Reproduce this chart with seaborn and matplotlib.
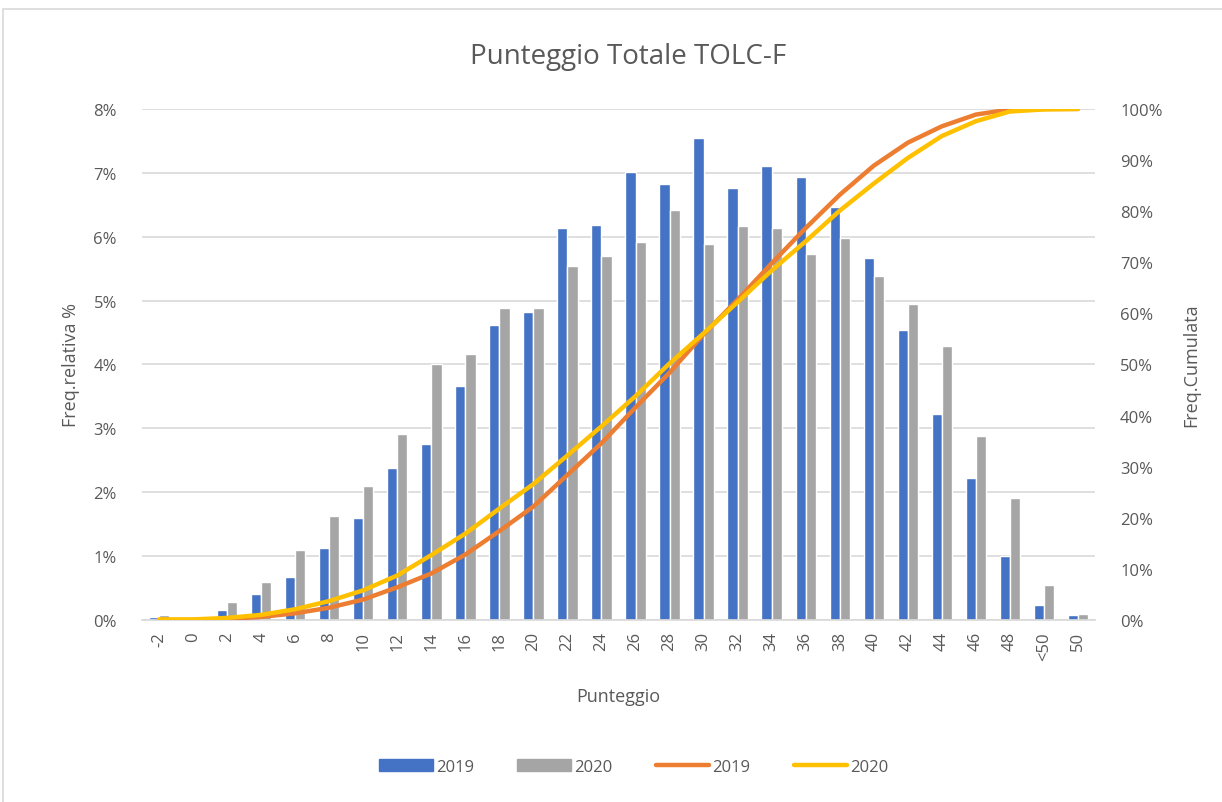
# Punteggio Totale TOLC-F - riproduzione grafico Excel
import numpy as np
import pandas as pd
import matplotlib.pyplot as plt
import seaborn as sns
from matplotlib.patches import Patch, Rectangle
from matplotlib.lines import Line2D
from matplotlib.ticker import PercentFormatter

# -----------------------------
# Dati
# -----------------------------
punteggi = ['-2', '0', '2', '4', '6', '8', '10', '12', '14', '16', '18', '20',
            '22', '24', '26', '28', '30', '32', '34', '36', '38', '40', '42',
            '44', '46', '48', '<50', '50']

# frequenza relativa %
freq_2019 = [0.04, 0.0, 0.16, 0.41, 0.67, 1.13, 1.60, 2.38, 2.75, 3.67, 4.61, 4.82,
             6.13, 6.19, 7.01, 6.82, 7.54, 6.76, 7.10, 6.94, 6.47, 5.66, 4.54,
             3.23, 2.23, 1.00, 0.23, 0.07]
freq_2020 = [0.07, 0.01, 0.28, 0.60, 1.10, 1.63, 2.10, 2.91, 4.00, 4.17, 4.88, 4.88,
             5.54, 5.69, 5.91, 6.41, 5.88, 6.16, 6.13, 5.73, 5.98, 5.38, 4.95,
             4.29, 2.88, 1.91, 0.54, 0.10]

# frequenza cumulata %
cum_2019 = [0.0, 0.0, 0.2, 0.6, 1.3, 2.4, 4.0, 6.4, 9.1, 12.8, 17.4, 22.2,
            28.4, 34.6, 41.6, 48.4, 55.9, 62.7, 69.8, 76.7, 83.2, 88.9, 93.4,
            96.6, 98.9, 99.9, 100.0, 100.0]
cum_2020 = [0.1, 0.1, 0.4, 1.0, 2.1, 3.7, 5.8, 8.7, 12.7, 16.9, 21.8, 26.6,
            32.2, 37.9, 43.8, 50.2, 56.1, 62.2, 68.4, 74.1, 80.1, 85.4, 90.4,
            94.7, 97.6, 99.5, 99.9, 100.0]

BLU = '#4472C4'
GRIGIO = '#A5A5A5'
ARANCIO = '#ED7D31'
GIALLO = '#FFC000'
TESTO = '#595959'
GRIGLIA = '#D9D9D9'

sns.set_theme(style='white')
plt.rcParams['font.family'] = ['Open Sans', 'DejaVu Sans']

n = len(punteggi)
df = pd.DataFrame({
    'Punteggio': punteggi * 2,
    'Freq': freq_2019 + freq_2020,
    'Anno': ['2019'] * n + ['2020'] * n,
})

# -----------------------------
# Grafico
# -----------------------------
fig = plt.figure(figsize=(12.22, 8.03), dpi=100)
ax = fig.add_axes([0.1162, 0.2267, 0.7799, 0.6364])

sns.barplot(data=df, x='Punteggio', y='Freq', hue='Anno', order=punteggi,
            palette=[BLU, GRIGIO], width=0.6, saturation=1, legend=False, ax=ax)

ax2 = ax.twinx()
pos = np.arange(n)
sns.lineplot(x=pos, y=cum_2019, color=ARANCIO, lw=3.2, ax=ax2)
sns.lineplot(x=pos, y=cum_2020, color=GIALLO, lw=3.2, ax=ax2)
for l in ax2.lines:
    l.set_solid_joinstyle('round')
    l.set_solid_capstyle('round')

ax.set_xlim(-0.5, n - 0.5)
ax.set_ylim(0, 8)
ax2.set_ylim(0, 100)
ax.set_yticks(np.arange(0, 9, 1))
ax2.set_yticks(np.arange(0, 101, 10))
ax.yaxis.set_major_formatter(PercentFormatter(decimals=0))
ax2.yaxis.set_major_formatter(PercentFormatter(decimals=0))

ax.set_axisbelow(True)
ax.yaxis.grid(True, color=GRIGLIA, lw=1.2)
ax.xaxis.grid(False)
for s in ['top', 'left', 'right']:
    ax.spines[s].set_visible(False)
    ax2.spines[s].set_visible(False)
ax.spines['bottom'].set_color(GRIGLIA)
ax2.spines['bottom'].set_visible(False)

ax.tick_params(axis='y', length=0, pad=18, labelsize=12, labelcolor=TESTO)
ax2.tick_params(axis='y', length=0, pad=18, labelsize=12, labelcolor=TESTO)
ax.tick_params(axis='x', length=0, pad=8, labelsize=12, labelcolor=TESTO,
               labelrotation=90)

ax.set_xlabel('Punteggio', fontsize=13, color=TESTO, labelpad=20)
ax.set_ylabel('Freq.relativa %', fontsize=13, color=TESTO, labelpad=10)
ax2.set_ylabel('Freq.Cumulata', fontsize=13, color=TESTO, labelpad=14)
fig.text(628 / 1222, 1 - 57 / 803, 'Punteggio Totale TOLC-F', fontsize=20,
         color=TESTO, ha='center', va='center')

handles = [Patch(color=BLU, label='2019'),
           Patch(color=GRIGIO, label='2020'),
           Line2D([], [], color=ARANCIO, lw=3.2, label='2019'),
           Line2D([], [], color=GIALLO, lw=3.2, label='2020')]
leg = fig.legend(handles=handles, loc='center', bbox_to_anchor=(634 / 1222, 0.044),
                 ncol=4, frameon=False, fontsize=12, handlelength=3.2,
                 handletextpad=0.2, columnspacing=2.6)
for t in leg.get_texts():
    t.set_color(TESTO)

# bordo dell'area del grafico
fig.patches.append(Rectangle((3 / 1222, -0.01), 1.0, 1 - 10 / 803 + 0.01,
                             transform=fig.transFigure, fill=False,
                             ec=GRIGLIA, lw=1.2))

plt.savefig('out.png', dpi=100)
